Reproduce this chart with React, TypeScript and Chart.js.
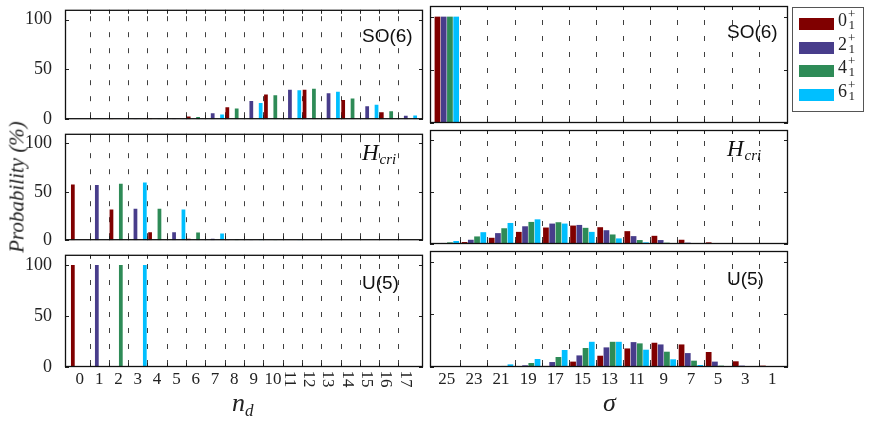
import { useEffect, useRef } from "react";
import { Chart, registerables } from "chart.js";

Chart.register(...registerables);

// x categories
const ndValues = [0, 1, 2, 3, 4, 5, 6, 7, 8, 9, 10, 11, 12, 13, 14, 15, 16, 17];
const sigmaValues = [25, 23, 21, 19, 17, 15, 13, 11, 9, 7, 5, 3, 1];
const stateLabels = ["0", "2", "4", "6"];

// SO(6) limit, probability (%) vs n_d
const so6Nd0 = [0, 0, 0.1, 0, 0.8, 0, 2.8, 0, 12, 0, 24.8, 0, 29.6, 0, 19.2, 0, 6.9, 0];
const so6Nd2 = [0, 0, 0, 0.2, 0, 0.5, 0, 6, 0, 18.2, 0, 29.6, 0, 26, 0, 12.9, 0, 3.5];
const so6Nd4 = [0, 0, 0, 0, 0.5, 0, 2.2, 0, 10.7, 0, 24.2, 0, 30.5, 0, 20.8, 0, 7.9, 0];
const so6Nd6 = [0, 0, 0, 0, 0, 0.5, 0, 4.7, 0, 16.4, 0, 29.2, 0, 27.7, 0, 14.5, 0, 3.8];

// critical point, vs n_d
const criNd0 = [57.5, 0, 31.7, 0, 8.3, 0, 1.5, 0, 0.3, 0, 0.05, 0, 0, 0, 0, 0, 0, 0];
const criNd2 = [0, 57.1, 0, 32.4, 0, 8.3, 0, 1.5, 0, 0.3, 0, 0, 0, 0, 0, 0, 0, 0];
const criNd4 = [0, 0, 58.4, 0, 32.4, 0, 7.9, 0, 1.1, 0, 0.1, 0, 0, 0, 0, 0, 0, 0];
const criNd6 = [0, 0, 0, 59.7, 0, 31.7, 0, 7, 0, 0.8, 0, 0.1, 0, 0, 0, 0, 0, 0];

// U(5) limit, vs n_d
const u5Nd0 = [100, 0, 0, 0, 0, 0, 0, 0, 0, 0, 0, 0, 0, 0, 0, 0, 0, 0];
const u5Nd2 = [0, 100, 0, 0, 0, 0, 0, 0, 0, 0, 0, 0, 0, 0, 0, 0, 0, 0];
const u5Nd4 = [0, 0, 100, 0, 0, 0, 0, 0, 0, 0, 0, 0, 0, 0, 0, 0, 0, 0];
const u5Nd6 = [0, 0, 0, 100, 0, 0, 0, 0, 0, 0, 0, 0, 0, 0, 0, 0, 0, 0];

// SO(6) limit, vs sigma
const so6Sig0 = [100, 0, 0, 0, 0, 0, 0, 0, 0, 0, 0, 0, 0];
const so6Sig2 = [100, 0, 0, 0, 0, 0, 0, 0, 0, 0, 0, 0, 0];
const so6Sig4 = [100, 0, 0, 0, 0, 0, 0, 0, 0, 0, 0, 0, 0];
const so6Sig6 = [100, 0, 0, 0, 0, 0, 0, 0, 0, 0, 0, 0, 0];

// critical point, vs sigma
const criSig0 = [0.6, 1.9, 6, 11.7, 15.9, 17.8, 16.2, 12.4, 7.9, 4.1, 1.6, 0.4, 0.2];
const criSig2 = [1, 4.1, 10.5, 17.1, 19.7, 18.4, 13.3, 7.6, 3.8, 1.3, 0.5, 0.1, 0];
const criSig4 = [1.6, 7.3, 15.2, 21.3, 21, 15.6, 9.2, 3.8, 1.3, 0.3, 0.1, 0, 0];
const criSig6 = [2.9, 11.4, 20.3, 23.8, 19.7, 11.7, 5.4, 1.6, 0.3, 0, 0, 0, 0];

// U(5) limit, vs sigma
const u5Sig0 = [0, 0, 0, 0.8, 1, 5.1, 10.7, 17.6, 23, 21.4, 14.2, 5.4, 1.3];
const u5Sig2 = [0, 0, 0.2, 1.6, 4.7, 11, 18.6, 23.6, 21.4, 13.2, 5.1, 1.3, 0.2];
const u5Sig4 = [0, 0, 1, 3.8, 9.5, 18, 23.9, 22.4, 14.5, 6, 1.3, 0.2, 0];
const u5Sig6 = [0, 0.3, 2.5, 7.6, 16.1, 23.9, 23.9, 16.4, 7.3, 1.9, 0.3, 0, 0];

const COLORS = ["#800000", "#483D8B", "#2E8B57", "#00BFFF"];
const SERIF = '"Liberation Serif", serif';
const SANS = '"Liberation Sans", sans-serif';

type Frame = { x: number; y: number; w: number; h: number };
type PanelDef = {
  axis: "nd" | "sigma";
  title: string;
  series: number[][];
  frame: Frame;
  bottom: boolean;
};

const LEFT_X = 65;
const RIGHT_X = 430;
const COL_W = 358;
const ROWS = [
  { y: 6, h: 117 },
  { y: 130, h: 114 },
  { y: 251, h: 116 },
];

const panels: PanelDef[] = [
  { axis: "nd", title: "SO(6)", series: [so6Nd0, so6Nd2, so6Nd4, so6Nd6], frame: { x: LEFT_X, w: COL_W, ...ROWS[0] }, bottom: false },
  { axis: "sigma", title: "SO(6)", series: [so6Sig0, so6Sig2, so6Sig4, so6Sig6], frame: { x: RIGHT_X, w: COL_W, ...ROWS[0] }, bottom: false },
  { axis: "nd", title: "Hcri", series: [criNd0, criNd2, criNd4, criNd6], frame: { x: LEFT_X, w: COL_W, ...ROWS[1] }, bottom: false },
  { axis: "sigma", title: "Hcri", series: [criSig0, criSig2, criSig4, criSig6], frame: { x: RIGHT_X, w: COL_W, ...ROWS[1] }, bottom: false },
  { axis: "nd", title: "U(5)", series: [u5Nd0, u5Nd2, u5Nd4, u5Nd6], frame: { x: LEFT_X, w: COL_W, ...ROWS[2] }, bottom: true },
  { axis: "sigma", title: "U(5)", series: [u5Sig0, u5Sig2, u5Sig4, u5Sig6], frame: { x: RIGHT_X, w: COL_W, ...ROWS[2] }, bottom: true },
];

function Panel({ def }: { def: PanelDef }) {
  const ref = useRef<HTMLCanvasElement>(null);
  const isNd = def.axis === "nd";
  const yW = isNd ? 45 : 0;
  const padL = 4;
  const padR = 4;
  const padT = 12;
  const padB = def.bottom ? 30 : 12;
  const W = def.frame.w + padL + padR + yW;
  const H = def.frame.h + padT + padB;

  useEffect(() => {
    if (!ref.current) return;
    const xs = isNd ? ndValues : sigmaValues;
    // dashed grid sits between the categories
    const gridAt = isNd
      ? ndValues.slice(0, -1).map((v) => v + 0.5)
      : sigmaValues.slice(0, -1).map((v) => v - 1);

    const deco = {
      id: "deco",
      beforeDatasetsDraw(chart: any) {
        const { ctx, chartArea: a, scales } = chart;
        ctx.save();
        ctx.strokeStyle = "rgba(0,0,0,0.75)";
        ctx.lineWidth = 1;
        ctx.setLineDash([5, 11]);
        gridAt.forEach((v) => {
          const px = Math.round(scales.x.getPixelForValue(v)) + 0.5;
          ctx.beginPath();
          ctx.moveTo(px, a.bottom - 2);
          ctx.lineTo(px, a.top);
          ctx.stroke();
        });
        ctx.restore();
      },
      afterDraw(chart: any) {
        const { ctx, chartArea: a, scales } = chart;
        ctx.save();
        // ticks
        ctx.strokeStyle = "#222";
        ctx.lineWidth = 1;
        gridAt.forEach((v) => {
          const px = Math.round(scales.x.getPixelForValue(v)) + 0.5;
          ctx.beginPath();
          ctx.moveTo(px, a.bottom);
          ctx.lineTo(px, a.bottom - 4);
          ctx.moveTo(px, a.top);
          ctx.lineTo(px, a.top + 4);
          ctx.stroke();
        });
        [0, 50, 100].forEach((v) => {
          const py = Math.round(scales.y.getPixelForValue(v)) + 0.5;
          ctx.beginPath();
          ctx.moveTo(a.left, py);
          ctx.lineTo(a.left + 4, py);
          ctx.moveTo(a.right, py);
          ctx.lineTo(a.right - 4, py);
          ctx.stroke();
        });
        // frame
        ctx.strokeStyle = "#111";
        ctx.lineWidth = 1.3;
        ctx.strokeRect(a.left + 0.5, a.top + 0.5, a.right - a.left - 1, a.bottom - a.top - 1);

        // panel title
        ctx.fillStyle = "#111";
        ctx.textAlign = "left";
        ctx.textBaseline = "alphabetic";
        const x0 = a.right - 61;
        if (def.title === "Hcri") {
          const by = a.top + 26;
          ctx.font = `italic 23px ${SERIF}`;
          ctx.fillText("H", x0, by);
          const wH = ctx.measureText("H").width;
          ctx.font = `italic 15px ${SERIF}`;
          ctx.fillText("cri", x0 + wH + 1, by + 4);
        } else {
          ctx.font = `19px ${SANS}`;
          ctx.fillText(def.title, x0, a.top + (def.title === "U(5)" ? 34 : 32));
        }

        // x tick labels on the bottom row; the crowded ones are turned sideways
        if (def.bottom) {
          ctx.fillStyle = "#222";
          ctx.font = `17px ${SERIF}`;
          ctx.textAlign = "center";
          ctx.textBaseline = "middle";
          const ly = a.bottom + 12;
          xs.forEach((v) => {
            const px = scales.x.getPixelForValue(v);
            if (isNd && v > 10) {
              ctx.save();
              ctx.translate(px - 2, ly);
              ctx.rotate(Math.PI / 2);
              ctx.fillText(String(v), 0, 1);
              ctx.restore();
            } else {
              ctx.fillText(String(v), px, ly + 1);
            }
          });
        }
        ctx.restore();
      },
    };

    const chart = new Chart(ref.current, {
      type: "bar",
      data: {
        datasets: def.series.map((vals, i) => ({
          label: stateLabels[i],
          data: xs.map((x, j) => ({ x, y: vals[j] })),
          backgroundColor: COLORS[i],
          borderWidth: 0,
          categoryPercentage: isNd ? 0.97 : 0.92,
          barPercentage: isNd ? 0.8 : 0.92,
        })),
      },
      options: {
        responsive: false,
        maintainAspectRatio: false,
        animation: false,
        events: [],
        layout: { padding: { left: padL, right: padR, top: padT, bottom: padB } },
        plugins: { legend: { display: false }, tooltip: { enabled: false } },
        scales: {
          x: {
            type: "linear",
            display: false,
            offset: false,
            reverse: !isNd,
            min: isNd ? -0.77 : -0.16,
            max: isNd ? 17.77 : 26.24,
            ticks: { stepSize: isNd ? 1 : 2, includeBounds: false },
            grid: { display: false },
          },
          y: {
            display: isNd,
            min: 0,
            max: 110,
            ticks: {
              stepSize: 50,
              includeBounds: false,
              padding: 5,
              color: "#222",
              font: { family: SERIF, size: 18 },
            },
            grid: { display: false },
            border: { display: false },
            afterFit: (s: any) => {
              s.width = yW;
            },
          },
        },
      },
      plugins: [deco],
    } as any);
    return () => chart.destroy();
  }, [def]);

  return (
    <canvas
      ref={ref}
      width={W}
      height={H}
      style={{
        position: "absolute",
        left: def.frame.x - padL - yW,
        top: def.frame.y - padT,
        width: W,
        height: H,
      }}
    />
  );
}

function Legend() {
  return (
    <div
      style={{
        position: "absolute",
        left: 792,
        top: 7,
        width: 70,
        height: 103,
        border: "1px solid #555",
        background: "#fff",
      }}
    >
      {stateLabels.map((s, i) => {
        const cy = 16 + i * 23.6;
        return (
          <div key={s}>
            <div
              style={{
                position: "absolute",
                left: 6,
                top: cy - 6,
                width: 35,
                height: 12,
                background: COLORS[i],
              }}
            />
            <div
              style={{
                position: "absolute",
                left: 45,
                top: cy - 14,
                fontFamily: SERIF,
                fontSize: 18,
                lineHeight: "20px",
                color: "#222",
              }}
            >
              {s}
            </div>
            <div
              style={{
                position: "absolute",
                left: 55,
                top: cy - 16,
                fontFamily: SERIF,
                fontSize: 13,
                lineHeight: "11px",
                color: "#222",
                textAlign: "center",
              }}
            >
              +
              <br />1
            </div>
          </div>
        );
      })}
    </div>
  );
}

export default function App() {
  return (
    <div
      style={{
        position: "fixed",
        left: 0,
        top: 0,
        width: 872,
        height: 427,
        background: "#fff",
        overflow: "hidden",
      }}
    >
      {panels.map((p, i) => (
        <Panel key={i} def={p} />
      ))}
      <div
        style={{
          position: "absolute",
          left: 17,
          top: 187,
          transform: "translate(-50%, -50%) rotate(-90deg)",
          whiteSpace: "nowrap",
          fontFamily: SERIF,
          fontStyle: "italic",
          fontSize: 21,
          color: "#222",
        }}
      >
        Probability (%)
      </div>
      <div
        style={{
          position: "absolute",
          left: 232,
          top: 390,
          fontFamily: SERIF,
          fontStyle: "italic",
          fontSize: 26,
          lineHeight: "26px",
          color: "#222",
        }}
      >
        n<span style={{ fontSize: 17, position: "relative", top: 5 }}>d</span>
      </div>
      <div
        style={{
          position: "absolute",
          left: 603,
          top: 390,
          fontFamily: SERIF,
          fontStyle: "italic",
          fontSize: 26,
          lineHeight: "26px",
          color: "#222",
        }}
      >
        σ
      </div>
      <Legend />
    </div>
  );
}
